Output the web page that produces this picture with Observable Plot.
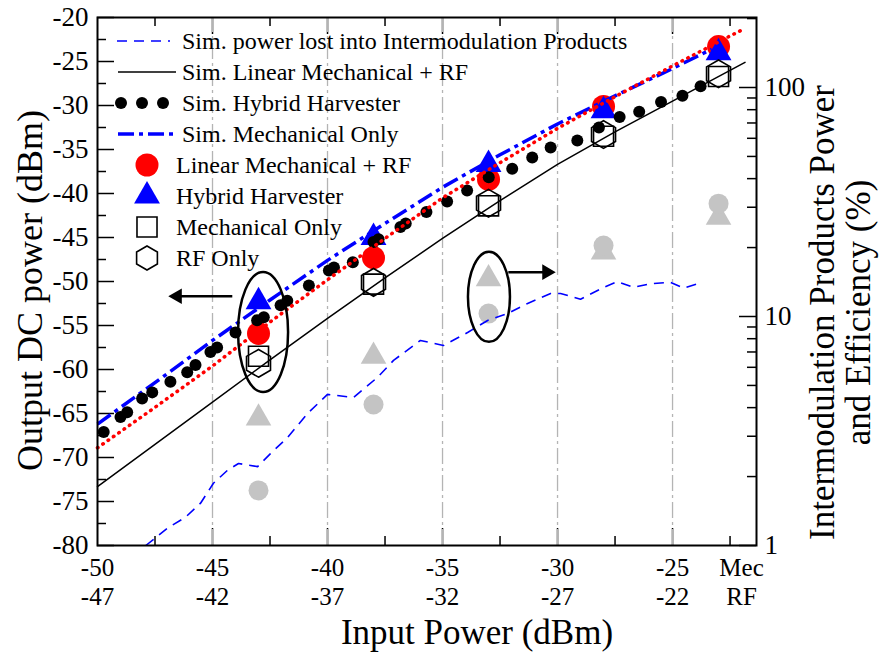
<!DOCTYPE html>
<html><head><meta charset="utf-8">
<script src="https://cdn.jsdelivr.net/npm/d3@7"></script>
<script src="https://cdn.jsdelivr.net/npm/@observablehq/plot@0.6"></script>
<style>body{margin:0;background:#fff}#chart{width:882px;height:652px}#chart svg, #chart text{font-family:"Liberation Serif","Times New Roman",Times,serif !important}</style>
</head><body><div id="chart"></div>
<script>
// ---------- data ----------
// measured points (mechanical input power, dBm)
const measX = [-43, -38, -33, -28, -23];
const measLinear = [-55.9, -47.3, -38.4, -30.1, -23.3];   // Linear Mechanical + RF (red circles)
const measHybrid = [-52.3, -45.0, -36.7, -30.6, -24.0];   // Hybrid Harvester (blue triangles)
const measMech   = [-58.5, -50.3, -41.4, -33.5, -26.7];   // Mechanical Only (squares)
const measRF     = [-59.3, -50.1, -41.1, -33.3, -26.4];   // RF Only (hexagons)
// efficiencies on right axis (%)
const effHybridPct = [3.6, 6.7, 14.6, 19.1, 27.1];        // grey triangles
const effLinearPct = [1.74, 4.13, 10.3, 20.4, 31.1];      // grey circles

// Sim. power lost into intermodulation products (%)
const imX = [-47.9, -46.96, -46.17, -45.52, -44.96, -44.35, -43.87, -43.04, -42.48, -41.74, -40.87, -40.0, -38.87, -37.83, -37.13, -35.96, -34.96, -33.91, -33.04, -32.17, -31.3, -30.3, -29.87, -29.0, -28.0, -27.39, -26.7, -25.96, -25.09, -24.52, -23.7];
const imPct = [1.0, 1.19, 1.33, 1.53, 1.87, 2.13, 2.28, 2.21, 2.52, 2.96, 3.77, 4.57, 4.43, 5.42, 6.43, 7.86, 7.47, 8.51, 9.61, 10.3, 11.4, 12.6, 12.6, 11.9, 13.4, 14.2, 13.4, 13.9, 14.1, 13.3, 14.1];

// Sim. Linear Mechanical + RF
const simLinX = [-50, -47.5, -45, -42.5, -40, -37.5, -35, -32.5, -30, -27.5, -25, -21.85];
const simLinY = [-73.3, -68.5, -63.7, -58.9, -54.2, -49.6, -45.1, -40.8, -36.7, -33.0, -29.5, -25.1];

// Sim. Hybrid Harvester (marker positions)
const simHybX = [-49.73, -49.0, -48.71, -48.06, -47.62, -46.83, -46.1, -45.74, -45.09, -44.8, -44.0, -43.06, -42.77, -42.04, -41.75, -40.81, -39.94, -39.72, -38.9, -38.0, -37.78, -36.83, -36.6, -35.7, -34.8, -33.93, -32.99, -31.97, -31.1, -30.3, -29.14, -28.2, -27.3, -26.45, -25.5, -24.57, -23.78];
const simHybY = [-67.1, -65.4, -64.85, -63.3, -62.6, -61.4, -60.3, -59.5, -58.0, -57.5, -55.8, -54.4, -54.05, -52.7, -52.2, -50.45, -48.75, -48.4, -47.8, -45.5, -45.2, -43.8, -43.4, -42.1, -40.9, -39.66, -38.15, -37.2, -35.9, -34.77, -33.98, -32.5, -31.3, -30.7, -29.6, -28.9, -27.8];

// Sim. Mechanical Only
const simMechX = [-50, -47.5, -45, -42.5, -40, -37.5, -35, -32.5, -30, -27.5, -25, -23.3];
const simMechY = [-66.2, -61.5, -56.7, -52.1, -47.6, -43.4, -39.3, -35.6, -32.1, -28.9, -25.8, -23.6];

// red dotted fit
const fitX = [-50, -47.5, -45, -42.5, -40, -37.5, -35, -32.5, -30, -27.5, -25, -22.5, -21.9];
const fitY = [-68.9, -64.3, -59.6, -54.6, -49.8, -45.1, -40.5, -36.5, -32.6, -29.0, -25.5, -22.1, -21.3];

// axes
const leftMajor = [-80, -75, -70, -65, -60, -55, -50, -45, -40, -35, -30, -25, -20];
const leftMinor = [-77.5, -72.5, -67.5, -62.5, -57.5, -52.5, -47.5, -42.5, -37.5, -32.5, -27.5, -22.5];
const xMajor = [-45, -40, -35, -30, -25];
const xMinor = [-47.5, -42.5, -37.5, -32.5, -27.5, -22.5];
const gridX = [-45, -40, -35, -30, -25];
const xLabelPos = [-50, -45, -40, -35, -30, -25, -22];
const xLabelMec = ["-50", "-45", "-40", "-35", "-30", "-25", "Mec"];
const xLabelRF  = ["-47", "-42", "-37", "-32", "-27", "-22", "RF"];
const rightMajor = [1, 10, 100];
const rightMinor = [2, 3, 4, 5, 6, 7, 8, 9, 20, 30, 40, 50, 60, 70, 80, 90, 200];
const rightLabels = ["1", "10", "100"];

const legendLineLabels = ["Sim. power lost into Intermodulation Products", "Sim. Linear Mechanical + RF", "Sim. Hybrid Harvester", "Sim. Mechanical Only"];
const legendMarkerLabels = ["Linear Mechanical + RF", "Hybrid Harvester", "Mechanical Only", "RF Only"];

// annotation (ellipses around groups, arrows pointing to axes)
const ellipses = [{x: -42.78, y: -55.8, rx: 25, ry: 60}, {x: -32.96, y: -51.8, rx: 21, ry: 45}];
const arrows = [{x1: -44.14, x2: -46.9, y: -51.67, dir: -1}, {x1: -32.14, x2: -30.1, y: -48.94, dir: 1}];

// ---------- layout ----------
const FONT = "Liberation Serif, Times New Roman, Times, serif";
const W = 882, H = 652, ML = 97, MR = 126, MT = 17, MB = 107;
const X0 = -50, X1 = -21.35, Y0 = -80, Y1 = -20;
const pxX = (W - ML - MR) / (X1 - X0);
const pxY = (H - MT - MB) / (Y1 - Y0);
const DEC = 229 / pxY;                       // left-axis units per decade of right axis
const yR = v => Y0 + DEC * Math.log10(v);

const rows = (xs, ys) => xs.map((x, i) => ({x, y: ys[i]}));
const meas = measX.map((x, i) => ({x, lin: measLinear[i], hyb: measHybrid[i], mech: measMech[i], rf: measRF[i],
  effH: yR(effHybridPct[i]), effL: yR(effLinearPct[i])}));
const im = imX.map((x, i) => ({x, y: yR(imPct[i])}));

const MAJ = 17, MIN = 9;
const BLUE = "#0000ff", RED = "#ff0000", GREY = "#c4c4c4";
const TICK_FS = 27, XTICK_FS = 25, TITLE_FS = 35, LEG_FS = 24;
const txt = {fill: "black", fontFamily: FONT};

const svg = Plot.plot({
  width: W, height: H, marginLeft: ML, marginRight: MR, marginTop: MT, marginBottom: MB,
  x: {domain: [X0, X1], axis: null},
  y: {domain: [Y0, Y1], axis: null},
  style: {fontFamily: FONT, background: "white", color: "black", overflow: "visible"},
  marks: [
    // ticks
    Plot.ruleX(xMajor, {y1: Y0, y2: Y0 + MAJ / pxY, stroke: "black", strokeWidth: 1.5}),
    Plot.ruleX(xMinor, {y1: Y0, y2: Y0 + MIN / pxY, stroke: "black", strokeWidth: 1.5}),
    Plot.ruleX(xMajor, {y1: Y1, y2: Y1 - MAJ / pxY, stroke: "black", strokeWidth: 1.5}),
    Plot.ruleX(xMinor, {y1: Y1, y2: Y1 - MIN / pxY, stroke: "black", strokeWidth: 1.5}),
    Plot.ruleY(leftMajor, {x1: X0, x2: X0 + MAJ / pxX, stroke: "black", strokeWidth: 1.5}),
    Plot.ruleY(leftMinor, {x1: X0, x2: X0 + MIN / pxX, stroke: "black", strokeWidth: 1.5}),
    Plot.ruleY(rightMajor, {y: d => yR(d), x1: X1, x2: X1 - MAJ / pxX, stroke: "black", strokeWidth: 1.5}),
    Plot.ruleY(rightMinor, {y: d => yR(d), x1: X1, x2: X1 - MIN / pxX, stroke: "black", strokeWidth: 1.5}),
    // grid
    Plot.ruleX(gridX, {y1: Y0, y2: Y1, stroke: "#b4b4b4", strokeWidth: 1.3, strokeDasharray: "16,4,3,4"}),
    // grey efficiency markers
    Plot.dot(meas, {x: "x", y: "effH", symbol: "triangle", r: 9.5, fill: GREY, stroke: "none"}),
    Plot.dot(meas, {x: "x", y: "effL", r: 10, fill: GREY, stroke: "none"}),
    // measured
    Plot.dot(meas, {x: "x", y: "lin", r: 11.5, fill: RED, stroke: "none"}),
    Plot.dot(meas, {x: "x", y: "hyb", symbol: "triangle", r: 9.6, fill: BLUE, stroke: "none"}),
    Plot.dot(meas, {x: "x", y: "mech", symbol: "square", r: 11.3, fill: "none", stroke: "black", strokeWidth: 1.6}),
    Plot.dot(meas, {x: "x", y: "rf", symbol: "hexagon", r: 12, fill: "none", stroke: "black", strokeWidth: 1.6}),
    // simulated lines
    Plot.line(im, {x: "x", y: "y", stroke: BLUE, strokeWidth: 1.6, strokeDasharray: "10,7", strokeLinecap: "butt"}),
    Plot.line(rows(simLinX, simLinY), {x: "x", y: "y", stroke: "black", strokeWidth: 1.5}),
    Plot.line(rows(simMechX, simMechY), {x: "x", y: "y", stroke: BLUE, strokeWidth: 3.5, strokeDasharray: "16,5,4,5", strokeLinecap: "butt"}),
    Plot.dot(rows(simHybX, simHybY), {x: "x", y: "y", r: 6, fill: "black", stroke: "none"}),
    Plot.line(rows(fitX, fitY), {x: "x", y: "y", stroke: RED, strokeWidth: 3.6, strokeDasharray: "0.5,6", strokeLinecap: "round"}),
    // arrows
    Plot.link(arrows, {x1: "x1", x2: d => d.x2 - d.dir * 8 / pxX, y1: "y", y2: "y", stroke: "black", strokeWidth: 2.5}),
    Plot.dot(arrows, {x: d => d.x2 - d.dir * 8.5 / pxX, y: "y", symbol: "triangle", r: 5.8, rotate: d => d.dir * 90, fill: "black", stroke: "none"}),
    // frame
    Plot.frame({stroke: "black", strokeWidth: 2}),
    // tick labels
    Plot.text(leftMajor, {x: X0, y: d => d, text: d => String(d), dx: -9, textAnchor: "end", fontSize: TICK_FS, ...txt}),
    Plot.text(rightMajor, {x: X1, y: d => yR(d), text: (d, i) => rightLabels[i], dx: 8, textAnchor: "start", fontSize: TICK_FS, ...txt}),
    Plot.text(xLabelPos, {x: d => d, frameAnchor: "bottom", text: (d, i) => xLabelMec[i], dy: 22, lineAnchor: "middle", fontSize: XTICK_FS, ...txt}),
    Plot.text(xLabelPos, {x: d => d, frameAnchor: "bottom", text: (d, i) => xLabelRF[i], dy: 51, lineAnchor: "middle", fontSize: XTICK_FS, ...txt}),
    // axis titles
    Plot.text(["Input Power (dBm)"], {frameAnchor: "bottom", dx: 50, dy: 87, textAnchor: "middle", lineAnchor: "middle", fontSize: TITLE_FS, ...txt}),
    Plot.text(["Output DC power (dBm)"], {frameAnchor: "left", dx: -67, dy: 9, rotate: -90, textAnchor: "middle", lineAnchor: "middle", fontSize: 36, ...txt}),
    Plot.text(["Intermodulation Products Power"], {frameAnchor: "right", dx: 66, dy: 31, rotate: -90, textAnchor: "middle", lineAnchor: "middle", fontSize: TITLE_FS, ...txt}),
    Plot.text(["and Efficiency (%)"], {frameAnchor: "right", dx: 102, dy: 31, rotate: -90, textAnchor: "middle", lineAnchor: "middle", fontSize: TITLE_FS, ...txt})
  ]
});

// ellipses via the plot's own scales
const sx = svg.scale("x"), sy = svg.scale("y");
const g = d3.select(svg).append("g");
g.selectAll("ellipse").data(ellipses).join("ellipse")
  .attr("cx", d => sx.apply(d.x)).attr("cy", d => sy.apply(d.y))
  .attr("rx", d => d.rx).attr("ry", d => d.ry)
  .attr("fill", "none").attr("stroke", "black").attr("stroke-width", 2.5);

// legend
const lg = d3.select(svg).append("g").attr("font-family", FONT).attr("font-size", LEG_FS)
  .attr("fill", "black").attr("text-anchor", "start");
const rowY = i => 41 + 31 * i;
const lineStyles = [
  {stroke: BLUE, w: 1.6, dash: "10,7", x1: 117, x2: 170},
  {stroke: "black", w: 1.5, dash: null, x1: 118, x2: 176},
  null,
  {stroke: BLUE, w: 3.5, dash: "16,5,4,5", x1: 118, x2: 177}
];
legendLineLabels.forEach((t, i) => {
  const y = rowY(i);
  const s = lineStyles[i];
  if (s) {
    const l = lg.append("line").attr("x1", s.x1).attr("x2", s.x2).attr("y1", y).attr("y2", y)
      .attr("stroke", s.stroke).attr("stroke-width", s.w);
    if (s.dash) l.attr("stroke-dasharray", s.dash);
  } else {
    [121, 142, 163].forEach(cx => lg.append("circle").attr("cx", cx).attr("cy", y).attr("r", 6).attr("fill", "black"));
  }
  lg.append("text").attr("x", 182).attr("y", y).attr("dy", "0.35em").style("font-family", FONT).text(t);
});
const hexPath = R => {
  const a = R * Math.sqrt(3) / 2;
  return `M0,${-R}L${a},${-R / 2}L${a},${R / 2}L0,${R}L${-a},${R / 2}L${-a},${-R / 2}Z`;
};
legendMarkerLabels.forEach((t, i) => {
  const y = rowY(i + 4), cx = 147;
  const gg = lg.append("g").attr("transform", `translate(${cx},${y})`);
  if (i === 0) gg.append("circle").attr("r", 11.5).attr("fill", RED);
  if (i === 1) gg.append("path").attr("d", d3.symbol(d3.symbolTriangle, Math.PI * 9.6 * 9.6)()).attr("fill", BLUE);
  if (i === 2) gg.append("path").attr("d", d3.symbol(d3.symbolSquare, Math.PI * 11.3 * 11.3)()).attr("fill", "none").attr("stroke", "black").attr("stroke-width", 1.6);
  if (i === 3) gg.append("path").attr("d", hexPath(12)).attr("fill", "none").attr("stroke", "black").attr("stroke-width", 1.6);
  lg.append("text").attr("x", 176).attr("y", y).attr("dy", "0.35em").style("font-family", FONT).text(t);
});

document.getElementById("chart").appendChild(svg);
</script>
</body></html>
